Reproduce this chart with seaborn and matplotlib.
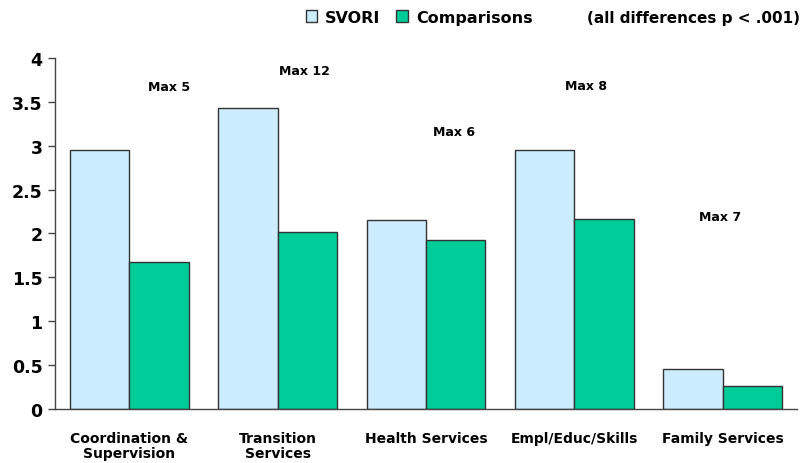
import pandas as pd
import seaborn as sns
import matplotlib.pyplot as plt
from matplotlib.patches import Patch
from matplotlib.ticker import FixedLocator

categories = ['Coordination &\nSupervision', 'Transition\nServices', 'Health Services',
              'Empl/Educ/Skills', 'Family Services']
svori = [2.95, 3.43, 2.15, 2.95, 0.45]
comparisons = [1.68, 2.02, 1.93, 2.17, 0.26]
max_labels = ['Max 5', 'Max 12', 'Max 6', 'Max 8', 'Max 7']
max_x = [0.27, 1.18, 2.19, 3.08, 3.98]
max_y = [3.68, 3.86, 3.16, 3.69, 2.19]

df = pd.DataFrame({
    'category': categories * 2,
    'group': ['SVORI'] * 5 + ['Comparisons'] * 5,
    'value': svori + comparisons,
})

sns.set_style('white')
plt.rcParams['font.family'] = ['DejaVu Sans']
plt.rcParams['font.weight'] = 'bold'
plt.rcParams['text.color'] = 'black'
plt.rcParams['xtick.color'] = 'black'
plt.rcParams['ytick.color'] = 'black'

colors = {'SVORI': '#CCECFF', 'Comparisons': '#00CC99'}

fig = plt.figure(figsize=(8.04, 4.64), dpi=100)
ax = fig.add_axes([0.0684, 0.1164, 0.9226, 0.7566])
sns.barplot(data=df, x='category', y='value', hue='group', palette=colors,
            saturation=1, width=0.8, gap=0, edgecolor='#333333', linewidth=1.0,
            ax=ax, legend=False)

ax.set_ylim(0, 4)
ax.set_xlim(-0.5, 4.5)
ax.set_yticks([0, 0.5, 1, 1.5, 2, 2.5, 3, 3.5, 4])
ax.set_yticklabels(['0', '0.5', '1', '1.5', '2', '2.5', '3', '3.5', '4'],
                   fontsize=12.5, fontweight='bold')
ax.set_xticks(range(5))
ax.set_xticklabels(categories, fontsize=10, fontweight='bold', linespacing=1.1)
ax.xaxis.set_minor_locator(FixedLocator([-0.5, 0.5, 1.5, 2.5, 3.5, 4.5]))
ax.tick_params(axis='x', which='major', length=0, pad=16)
ax.tick_params(axis='x', which='minor', length=5, width=1, direction='out', color='#444444')
ax.tick_params(axis='y', length=5, width=1, direction='out', color='#444444', left=True, pad=4)
ax.set_xlabel('')
ax.set_ylabel('')
for s in ['top', 'right']:
    ax.spines[s].set_visible(False)
for s in ['left', 'bottom']:
    ax.spines[s].set_color('#444444')
    ax.spines[s].set_linewidth(1)

for lab, x, y in zip(max_labels, max_x, max_y):
    ax.text(x, y, lab, ha='center', va='center', fontsize=9, fontweight='bold')

handles = [Patch(facecolor=colors['SVORI'], edgecolor='#333333', label='SVORI'),
           Patch(facecolor=colors['Comparisons'], edgecolor='#333333', label='Comparisons')]
fig.legend(handles=handles, loc='center left', bbox_to_anchor=(0.38, 0.961), ncol=2,
           frameon=False, prop={'weight': 'bold', 'size': 11.5},
           handlelength=0.72, handleheight=0.72, handletextpad=0.5, columnspacing=1.0,
           borderaxespad=0, borderpad=0)
fig.text(0.995, 0.961, '(all differences p < .001)', ha='right', va='center',
         fontsize=11, fontweight='bold')

fig.savefig('out.png', dpi=100)
